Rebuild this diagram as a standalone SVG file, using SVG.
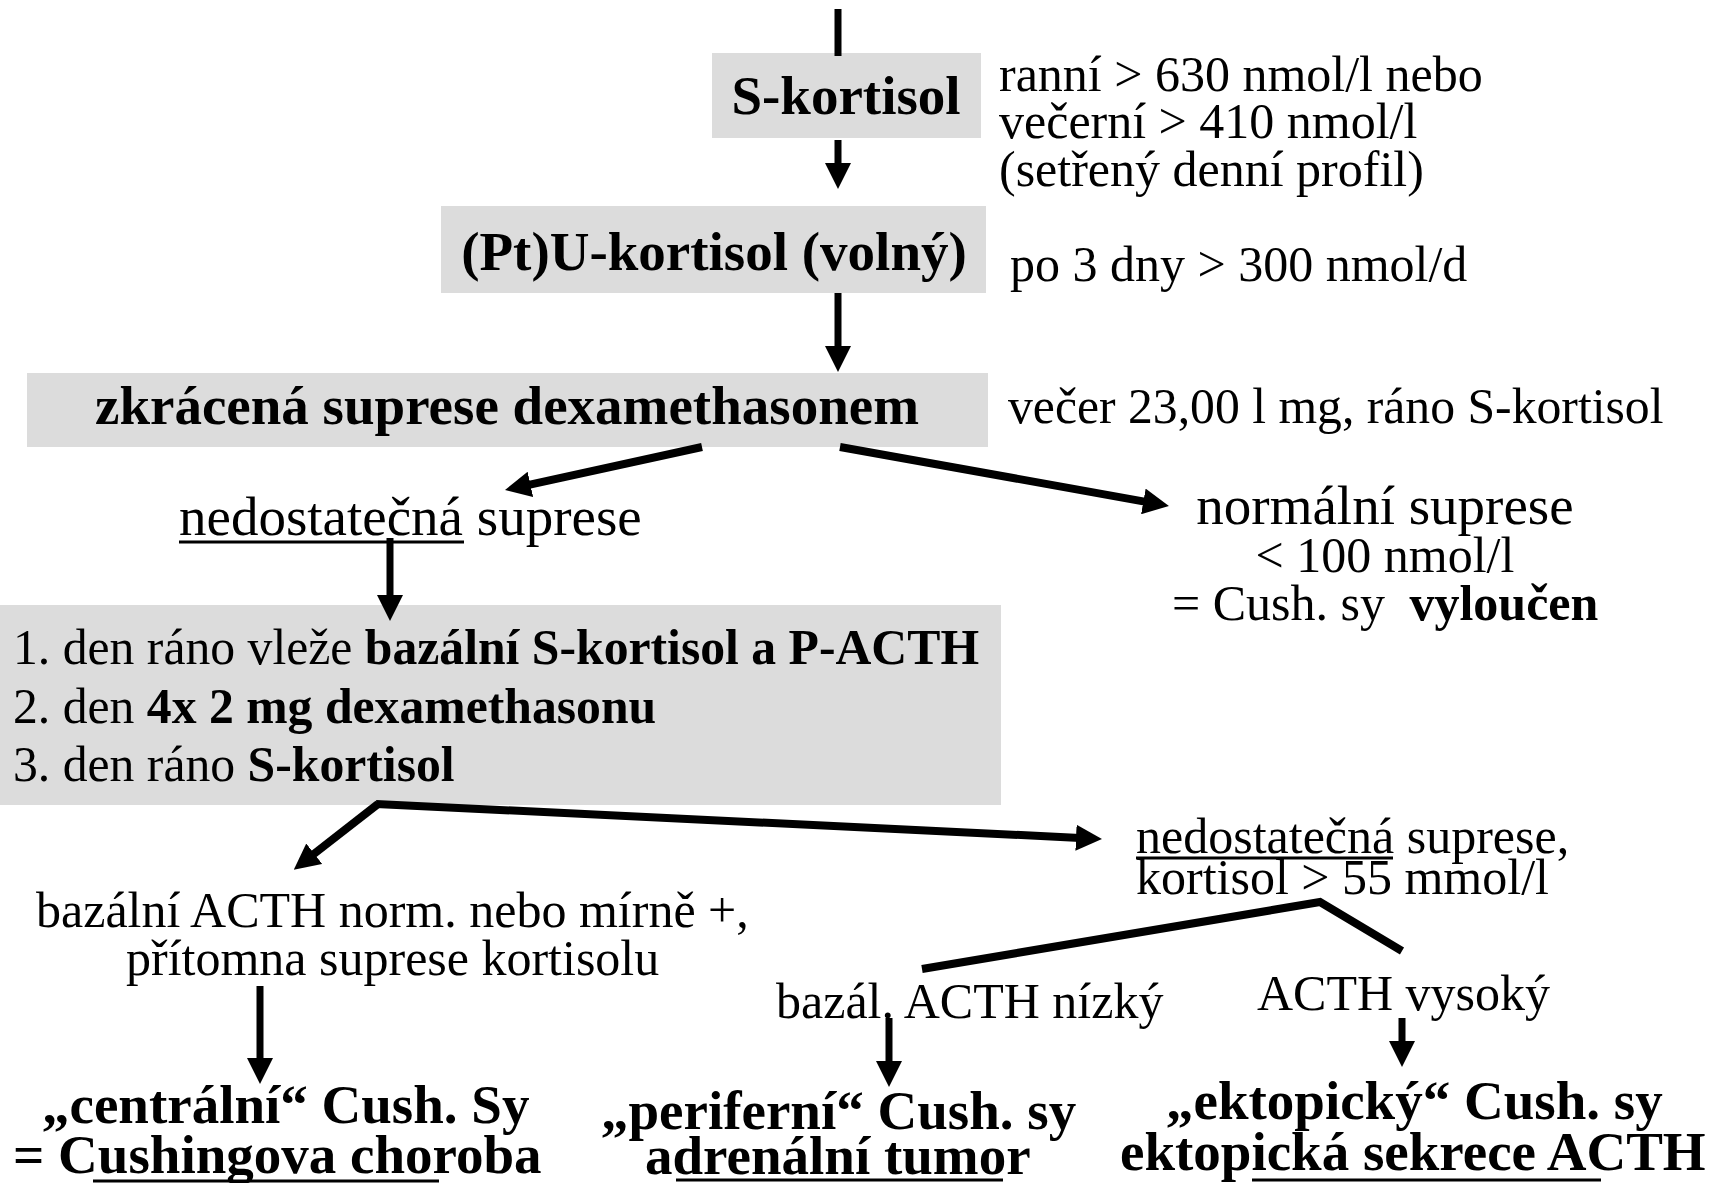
<svg xmlns="http://www.w3.org/2000/svg" width="1721" height="1183" viewBox="0 0 1721 1183">
<style>
.box{fill:#dcdcdc}
text{font-family:"Liberation Serif","Times New Roman",serif;fill:#000}
.b{font-weight:bold;font-size:55px}
.r{font-size:50px}
.m{font-size:55px}
.l{font-size:49.7px}
.bb{font-weight:bold}
.ln{stroke:#000;stroke-width:7;fill:none}
.th{stroke:#000;stroke-width:8;fill:none}
.ul{stroke:#000;stroke-width:3}
</style>
<defs>
<marker id="ah" markerUnits="userSpaceOnUse" viewBox="0 0 26 26" markerWidth="26" markerHeight="26" refX="4" refY="13" orient="auto">
<path d="M0,0 L26,13 L0,26 z" fill="#000"/>
</marker>
</defs>
<g id="n-skortisol">
<rect class="box" x="712" y="53" width="269" height="85"/>
<text class="b" x="846" y="114" text-anchor="middle">S-kortisol</text>
</g>
<g id="n-skortisol-note">
<text class="r" x="999" y="91">ranní &gt; 630 nmol/l nebo</text>
<text class="r" x="999" y="138">večerní &gt; 410 nmol/l</text>
<text class="r" x="999" y="186">(setřený denní profil)</text>
</g>
<g id="n-ukortisol">
<rect class="box" x="441" y="206" width="545" height="87"/>
<text class="b" x="714" y="270" text-anchor="middle">(Pt)U-kortisol (volný)</text>
</g>
<g id="n-ukortisol-note">
<text class="r" x="1010" y="281">po 3 dny &gt; 300 nmol/d</text>
</g>
<g id="n-zkracena">
<rect class="box" x="27" y="373" width="961" height="74"/>
<text class="b" x="507" y="424" text-anchor="middle">zkrácená suprese dexamethasonem</text>
</g>
<g id="n-zkracena-note">
<text class="l" x="1008" y="423">večer 23,00 l mg, ráno S-kortisol</text>
</g>
<g id="n-nedost1">
<text class="m" x="179" y="535">nedostatečná suprese</text>
<line class="ul" x1="179" y1="542" x2="464" y2="542"/>
</g>
<g id="n-normalni">
<text class="m" x="1385" y="524" text-anchor="middle">normální suprese</text>
<text class="r" x="1385" y="572" text-anchor="middle">&lt; 100 nmol/l</text>
<text class="r" x="1172" y="620">= Cush. sy <tspan class="bb" dx="12">vyloučen</tspan></text>
</g>
<g id="n-velky">
<rect class="box" x="0" y="605" width="1001" height="200"/>
<text class="l" x="13" y="664">1. den ráno vleže <tspan class="bb">bazální S-kortisol a P-ACTH</tspan></text>
<text class="l" x="13" y="723">2. den <tspan class="bb">4x 2 mg dexamethasonu</tspan></text>
<text class="l" x="13" y="781">3. den ráno <tspan class="bb">S-kortisol</tspan></text>
</g>
<g id="n-nedost2">
<text class="r" x="1136" y="853">nedostatečná suprese,</text>
<line class="ul" x1="1136" y1="858" x2="1393" y2="858"/>
<text class="r" x="1136" y="894">kortisol &gt; 55 mmol/l</text>
</g>
<g id="n-bazalni">
<text class="r" x="36" y="927">bazální ACTH norm. nebo mírně +,</text>
<text class="r" x="126" y="975">přítomna suprese kortisolu</text>
</g>
<g id="n-nizky">
<text class="r" x="776" y="1018">bazál. ACTH nízký</text>
</g>
<g id="n-vysoky">
<text class="r" x="1257" y="1010">ACTH vysoký</text>
</g>
<g id="n-centralni">
<text class="b" x="42" y="1123">„centrální“ Cush. Sy</text>
<text class="b" x="13" y="1173">= Cushingova choroba</text>
<line class="ul" x1="93" y1="1181" x2="439" y2="1181"/>
</g>
<g id="n-periferni">
<text class="b" x="601" y="1129">„periferní“ Cush. sy</text>
<text class="b" x="645" y="1174">adrenální tumor</text>
<line class="ul" x1="676" y1="1180" x2="1003" y2="1180"/>
</g>
<g id="n-ektopicky">
<text class="b" x="1166" y="1119">„ektopický“ Cush. sy</text>
<text class="b" x="1120" y="1170">ektopická sekrece ACTH</text>
<line class="ul" x1="1252" y1="1180" x2="1601" y2="1180"/>
</g>
<g id="connectors">
<line class="ln" x1="838" y1="9" x2="838" y2="56"/>
<line class="ln" x1="838" y1="140" x2="838" y2="167" marker-end="url(#ah)"/>
<line class="ln" x1="838" y1="293" x2="838" y2="350" marker-end="url(#ah)"/>
<line class="th" x1="702" y1="447" x2="526.5" y2="485.3" marker-end="url(#ah)"/>
<line class="th" x1="840" y1="447" x2="1147.3" y2="502.1" marker-end="url(#ah)"/>
<line class="ln" x1="390" y1="538" x2="390" y2="599" marker-end="url(#ah)"/>
<line class="th" x1="378" y1="804" x2="311.1" y2="856.2" marker-end="url(#ah)"/>
<line class="th" x1="376" y1="804" x2="1080" y2="837.9" marker-end="url(#ah)"/>
<polyline class="th" points="922,969 1320,902 1402,951"/>
<line class="ln" x1="260" y1="986" x2="260" y2="1062" marker-end="url(#ah)"/>
<line class="ln" x1="889" y1="1018" x2="889" y2="1065" marker-end="url(#ah)"/>
<line class="ln" x1="1402" y1="1018" x2="1402" y2="1045" marker-end="url(#ah)"/>
</g>
</svg>
